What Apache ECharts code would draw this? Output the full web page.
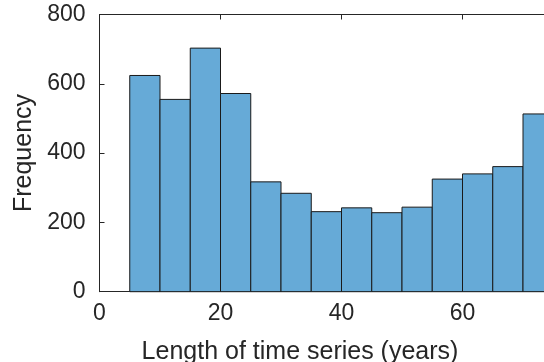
<!DOCTYPE html>
<html>
<head>
<meta charset="utf-8">
<script src="https://cdn.jsdelivr.net/npm/echarts@6/dist/echarts.min.js"></script>
<style>
  html, body { margin: 0; padding: 0; background: #fff; overflow: hidden; }
  #chart { width: 640px; height: 362px; }
</style>
</head>
<body>
<div id="chart"></div>
<script>
// Histogram bins (years) and frequencies
const binEdges = [5, 10, 15, 20, 25, 30, 35, 40, 45, 50, 55, 60, 65, 70, 75];
const counts = [624, 555, 703, 572, 317, 284, 231, 242, 228, 244, 325, 340, 361, 513];
const xTicks = [0, 20, 40, 60, 80];
const yTicks = [0, 200, 400, 600, 800];
const xLabel = 'Length of time series (years)';
const yLabel = 'Frequency';

const data = counts.map((c, i) => [binEdges[i], binEdges[i + 1], c]);

const axisColor = '#262626';
const font = '"Liberation Sans", Arial, Helvetica, sans-serif';

const chart = echarts.init(document.getElementById('chart'));
chart.setOption({
  animation: false,
  grid: { left: 99.5, top: 14.5, width: 484, height: 277.2, containLabel: false },
  xAxis: [{
    type: 'value', position: 'bottom',
    min: xTicks[0], max: xTicks[xTicks.length - 1], interval: xTicks[1] - xTicks[0],
    axisLine: { show: true, onZero: false, lineStyle: { color: axisColor, width: 1 } },
    axisTick: { show: true, inside: true, length: 5, lineStyle: { color: axisColor } },
    axisLabel: { fontSize: 23, color: axisColor, fontFamily: font, margin: 10 },
    splitLine: { show: false }
  }, {
    type: 'value', position: 'top',
    min: xTicks[0], max: xTicks[xTicks.length - 1], interval: xTicks[1] - xTicks[0],
    axisLine: { show: true, onZero: false, lineStyle: { color: axisColor, width: 1 } },
    axisTick: { show: true, inside: true, length: 5, lineStyle: { color: axisColor } },
    axisLabel: { show: false },
    splitLine: { show: false }
  }],
  yAxis: [{
    type: 'value', position: 'left',
    min: yTicks[0], max: yTicks[yTicks.length - 1], interval: yTicks[1] - yTicks[0],
    axisLine: { show: true, onZero: false, lineStyle: { color: axisColor, width: 1 } },
    axisTick: { show: true, inside: true, length: 5, lineStyle: { color: axisColor } },
    axisLabel: { fontSize: 23, color: axisColor, fontFamily: font, margin: 14 },
    splitLine: { show: false }
  }, {
    type: 'value', position: 'right',
    min: yTicks[0], max: yTicks[yTicks.length - 1], interval: yTicks[1] - yTicks[0],
    axisLine: { show: true, onZero: false, lineStyle: { color: axisColor, width: 1 } },
    axisTick: { show: true, inside: true, length: 5, lineStyle: { color: axisColor } },
    axisLabel: { show: false },
    splitLine: { show: false }
  }],
  graphic: [{
    type: 'text', left: null, x: 300, y: 352,
    style: { text: xLabel, font: '25px ' + font, fill: axisColor, align: 'center', verticalAlign: 'middle' }
  }, {
    type: 'text', x: 24, y: 153, rotation: Math.PI / 2,
    style: { text: yLabel, font: '25px ' + font, fill: axisColor, align: 'center', verticalAlign: 'middle' }
  }],
  series: [{
    type: 'custom',
    xAxisIndex: 0, yAxisIndex: 0,
    data: data,
    encode: { x: [0, 1], y: 2 },
    renderItem: function (params, api) {
      const p0 = api.coord([api.value(0), api.value(2)]);
      const p1 = api.coord([api.value(1), 0]);
      return {
        type: 'rect',
        shape: { x: p0[0], y: p0[1], width: p1[0] - p0[0], height: p1[1] - p0[1] },
        style: { fill: '#66AAD7', stroke: '#1a1a1a', lineWidth: 1 }
      };
    }
  }]
});
</script>
</body>
</html>
